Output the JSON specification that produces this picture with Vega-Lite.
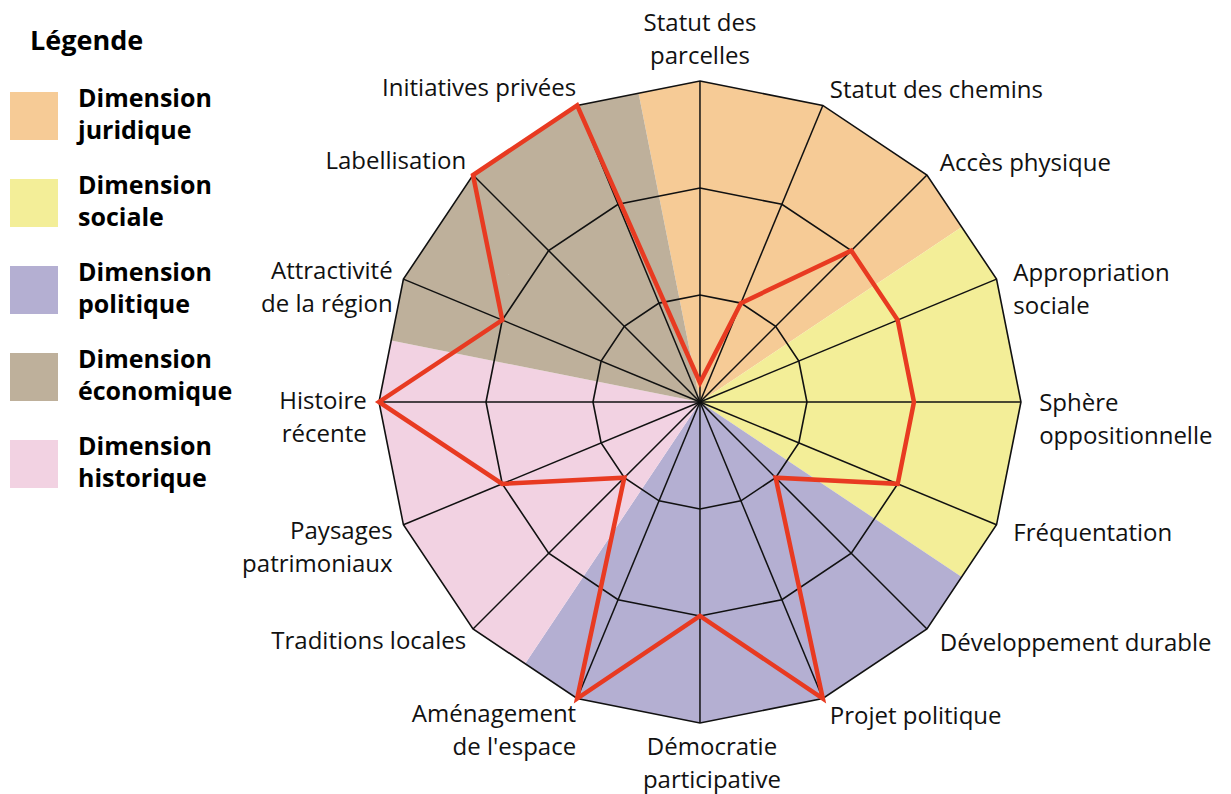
{
  "$schema": "https://vega.github.io/schema/vega-lite/v6.json",
  "width": 1231,
  "height": 794,
  "padding": 0,
  "autosize": {"type": "none"},
  "background": "white",
  "config": {
    "view": {"stroke": null},
    "font": "Open Sans",
    "style": {"guide-label": {"lineHeight": 32}}
  },
  "datasets": {
    "axes": [
      {"i": 0, "label": "Statut des\nparcelles", "dim": "Dimension juridique", "value": 0.18},
      {"i": 1, "label": "Statut des chemins", "dim": "Dimension juridique", "value": 1},
      {"i": 2, "label": "Accès physique", "dim": "Dimension juridique", "value": 2},
      {"i": 3, "label": "Appropriation\nsociale", "dim": "Dimension sociale", "value": 2},
      {"i": 4, "label": "Sphère\noppositionnelle", "dim": "Dimension sociale", "value": 2},
      {"i": 5, "label": "Fréquentation", "dim": "Dimension sociale", "value": 2},
      {"i": 6, "label": "Développement durable", "dim": "Dimension politique", "value": 1},
      {"i": 7, "label": "Projet politique", "dim": "Dimension politique", "value": 3},
      {"i": 8, "label": "Démocratie\nparticipative", "dim": "Dimension politique", "value": 2},
      {"i": 9, "label": "Aménagement\nde l'espace", "dim": "Dimension politique", "value": 3},
      {"i": 10, "label": "Traditions locales", "dim": "Dimension historique", "value": 1},
      {"i": 11, "label": "Paysages\npatrimoniaux", "dim": "Dimension historique", "value": 2},
      {"i": 12, "label": "Histoire\nrécente", "dim": "Dimension historique", "value": 3},
      {"i": 13, "label": "Attractivité\nde la région", "dim": "Dimension économique", "value": 2},
      {"i": 14, "label": "Labellisation", "dim": "Dimension économique", "value": 3},
      {"i": 15, "label": "Initiatives privées", "dim": "Dimension économique", "value": 3}
    ]
  },
  "data": {"name": "axes"},
  "encoding": {
    "x": {"field": "x", "type": "quantitative", "scale": {"domain": [-6.542, 4.963], "nice": false, "zero": false}, "axis": null},
    "y": {"field": "y", "type": "quantitative", "scale": {"domain": [-3.664, 3.757], "nice": false, "zero": false}, "axis": null}
  },
  "layer": [
    {
      "transform": [
        {"calculate": "[0,1,2,3]", "as": "k"},
        {"flatten": ["k"]},
        {"calculate": "datum.k == 1 ? -0.5 : (datum.k == 3 ? 0.5 : 0)", "as": "off"},
        {"calculate": "datum.k == 0 ? 0 : (datum.k == 2 ? 3 : 3 * cos(PI / 16))", "as": "r"},
        {"calculate": "(datum.i + datum.off) * PI / 8", "as": "t"},
        {"calculate": "datum.r * sin(datum.t)", "as": "x"},
        {"calculate": "datum.r * cos(datum.t)", "as": "y"},
        {"calculate": "datum.i * 4 + datum.k", "as": "seq"}
      ],
      "mark": {"type": "line", "filled": true, "interpolate": "linear-closed", "opacity": 1},
      "encoding": {
        "color": {
          "field": "dim",
          "type": "nominal",
          "scale": {
            "domain": ["Dimension juridique", "Dimension sociale", "Dimension politique", "Dimension économique", "Dimension historique"],
            "range": ["#F6CB96", "#F3EE98", "#B4AFD2", "#BEB09B", "#F2D2E2"]
          },
          "legend": {
            "title": "\u2800Légende",
            "orient": "none",
            "legendX": 10,
            "legendY": 29,
            "titleFont": "Open Sans",
            "titleFontSize": 27,
            "titleFontWeight": "bold",
            "titleColor": "black",
            "titlePadding": 36,
            "symbolType": "square",
            "symbolSize": 2304,
            "symbolStrokeWidth": 0,
            "symbolOpacity": 1,
            "labelFont": "Open Sans",
            "labelFontSize": 25,
            "labelFontWeight": "bold",
            "labelColor": "black",
            "labelOffset": 20,
            "labelLimit": 400,
            "labelBaseline": "line-bottom",
            "rowPadding": 30,
            "labelExpr": "['Dimension', slice(datum.label, 10)]"
          }
        },
        "order": {"field": "seq", "type": "quantitative"}
      }
    },
    {
      "transform": [
        {"calculate": "[1,2,3]", "as": "ring"},
        {"flatten": ["ring"]},
        {"calculate": "datum.i * PI / 8", "as": "t"},
        {"calculate": "datum.ring * sin(datum.t)", "as": "x"},
        {"calculate": "datum.ring * cos(datum.t)", "as": "y"}
      ],
      "mark": {"type": "line", "interpolate": "linear-closed", "color": "#111111", "strokeWidth": 1.6},
      "encoding": {
        "detail": {"field": "ring", "type": "nominal"},
        "order": {"field": "i", "type": "quantitative"}
      }
    },
    {
      "transform": [
        {"calculate": "datum.i * PI / 8", "as": "t"},
        {"calculate": "3 * sin(datum.t)", "as": "x"},
        {"calculate": "3 * cos(datum.t)", "as": "y"},
        {"calculate": "0", "as": "x0"},
        {"calculate": "0", "as": "y0"}
      ],
      "mark": {"type": "rule", "color": "#111111", "strokeWidth": 1.5},
      "encoding": {
        "x2": {"field": "x0"},
        "y2": {"field": "y0"}
      }
    },
    {
      "transform": [
        {"calculate": "datum.i * PI / 8", "as": "t"},
        {"calculate": "datum.value * sin(datum.t)", "as": "x"},
        {"calculate": "datum.value * cos(datum.t)", "as": "y"}
      ],
      "mark": {"type": "line", "interpolate": "linear-closed", "color": "#E83A21", "strokeWidth": 4.5, "strokeJoin": "miter"},
      "encoding": {
        "order": {"field": "i", "type": "quantitative"}
      }
    },
    {
      "transform": [
        {"filter": "datum.i == 0"},
        {"calculate": "0", "as": "x"},
        {"calculate": "3.2", "as": "y"},
        {"calculate": "split(datum.label, '\\n')", "as": "lines"}
      ],
      "mark": {"type": "text", "align": "center", "baseline": "bottom", "dy": -24, "fontSize": 24, "font": "Open Sans", "lineHeight": 33, "color": "#111111"},
      "encoding": {"text": {"field": "lines", "type": "nominal"}}
    },
    {
      "transform": [
        {"filter": "datum.i == 8"},
        {"calculate": "0", "as": "x"},
        {"calculate": "-3.2", "as": "y"},
        {"calculate": "split(datum.label, '\\n')", "as": "lines"}
      ],
      "mark": {"type": "text", "align": "center", "baseline": "top", "dx": 12, "dy": -8, "fontSize": 24, "font": "Open Sans", "lineHeight": 33, "color": "#111111"},
      "encoding": {"text": {"field": "lines", "type": "nominal"}}
    },
    {
      "transform": [
        {"filter": "datum.i > 0 && datum.i < 8"},
        {"calculate": "datum.i * PI / 8", "as": "t"},
        {"calculate": "3.17 * sin(datum.t)", "as": "x"},
        {"calculate": "3.17 * cos(datum.t)", "as": "y"},
        {"calculate": "split(datum.label, '\\n')", "as": "lines"}
      ],
      "mark": {"type": "text", "align": "left", "baseline": "middle", "dy": 2, "fontSize": 24, "font": "Open Sans", "lineHeight": 33, "color": "#111111"},
      "encoding": {"text": {"field": "lines", "type": "nominal"}}
    },
    {
      "transform": [
        {"filter": "datum.i > 8"},
        {"calculate": "datum.i * PI / 8", "as": "t"},
        {"calculate": "3.17 * sin(datum.t)", "as": "x"},
        {"calculate": "3.17 * cos(datum.t)", "as": "y"},
        {"calculate": "split(datum.label, '\\n')", "as": "lines"}
      ],
      "mark": {"type": "text", "align": "right", "baseline": "middle", "dx": 6, "fontSize": 24, "font": "Open Sans", "lineHeight": 33, "color": "#111111"},
      "encoding": {"text": {"field": "lines", "type": "nominal"}}
    }
  ]
}
